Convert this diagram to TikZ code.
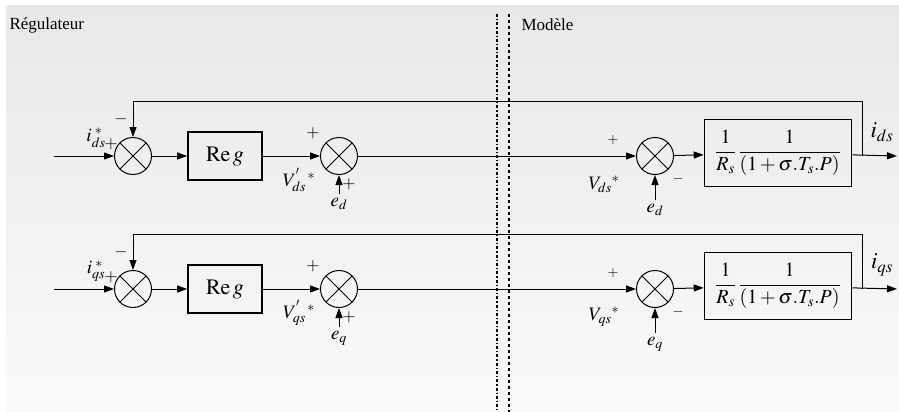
\documentclass[tikz,border=0pt]{standalone}
\usepackage{amsmath}
\usepackage{mathptmx}
\usepackage{fontspec}
\setmainfont{Liberation Serif}
\usetikzlibrary{arrows.meta,positioning}
\tikzset{
  every picture/.style={draw=black, text=black},
}

\begin{document}
\begin{tikzpicture}[x=1pt, y=-1pt,
  font=\fontsize{19}{21}\selectfont,
  sig/.style={line width=1pt, -{Triangle[length=10pt,width=7pt]}},
  sumj/.style={circle, draw, line width=1pt, minimum size=37pt, inner sep=0pt,
    path picture={\draw[line width=1pt]
      (path picture bounding box.north west) -- (path picture bounding box.south east)
      (path picture bounding box.north east) -- (path picture bounding box.south west);}},
  blk/.style={draw, line width=1.6pt, inner sep=0pt},
  sgn/.style={inner sep=0pt, font=\fontsize{17}{19}\selectfont}]
% Background
\useasboundingbox (0,0) rectangle (899,412);
\shade[top color=black!9, bottom color=black!2] (6,6) rectangle (899,412);
% Titles
\node[right, font=\fontsize{17}{20}\selectfont] (treg) at (6,25) {Régulateur};
\node[right, font=\fontsize{17}{20}\selectfont] (tmod) at (518,25) {Modèle};
% Separation
\draw[line width=1.3pt, dash dot] (497,14) -- (497,412);
\draw[line width=1.3pt, dashed] (509,14) -- (509,412);
% Two current loops
\foreach \r/\y/\sub in {d/156/ds, q/289/qs}{
  \coordinate (in\r) at (54,\y);
  \node[sumj] (sa\r) at (133,\y) {};
  \node[blk, minimum width=74pt, minimum height=48pt, font=\fontsize{22}{24}\selectfont]
    (reg\r) at (225,\y) {$\mathrm{Re}\,g$};
  \node[sumj] (sb\r) at (339,\y) {};
  \node[sumj] (sc\r) at (655,\y) {};
  \node[blk, minimum width=147pt, minimum height=67pt, font=\fontsize{20}{22}\selectfont]
    (mod\r) at (778,\y-3) {$\dfrac{1}{R_s}\,\dfrac{1}{(1+\sigma.T_s.P)}$};
  \coordinate (out\r) at (897,\y);
  \coordinate (fb\r) at (862,\y);
  \coordinate (top\r) at (133,\y-55);
  \coordinate (eb\r) at (339,\y+38);
  \coordinate (ec\r) at (655,\y+44);
  % forward path
  \draw[sig] (in\r) -- (sa\r);
  \draw[sig] (sa\r) -- (reg\r);
  \draw[sig] (reg\r) -- (sb\r);
  \draw[sig] (sb\r) -- (sc\r);
  \draw[sig] (sc\r) -- (mod\r);
  \draw[sig] (mod\r) -- (out\r);
  % feedback
  \draw[sig] (fb\r) |- (top\r) -- (sa\r.north);
  % disturbances
  \draw[sig] (eb\r) -- (sb\r.south);
  \draw[sig] (ec\r) -- (sc\r.south);
  % labels
  \node (lia\r) at (96,\y-18) {$i_{\sub}^{\;*}$};
  \node[sgn] (pa\r) at (111,\y-12) {$+$};
  \node[sgn] (ma\r) at (121,\y-37) {$-$};
  \node[sgn] (pb\r) at (313,\y-23) {$+$};
  \node[sgn] (qb\r) at (349,\y+28) {$+$};
  \node (lvb\r) at (299,\y+24) {$V^{'}_{\sub}{}^{\,*}$};
  \node[below=1pt of eb\r] (leb\r) {$e_{\r}$};
  \node[sgn, font=\fontsize{14}{16}\selectfont] (pc\r) at (613,\y-16) {$+$};
  \node[sgn, font=\fontsize{14}{16}\selectfont] (mc\r) at (678,\y+23) {$-$};
  \node (lvc\r) at (604,\y+28) {$V_{\sub}{}^{*}$};
  \node[below=1pt of ec\r] (lec\r) {$e_{\r}$};
  \node[font=\fontsize{23}{25}\selectfont] (lo\r) at (882,\y-24) {$\boldsymbol{i}_{\sub}$};
}
\end{tikzpicture}
\end{document}
